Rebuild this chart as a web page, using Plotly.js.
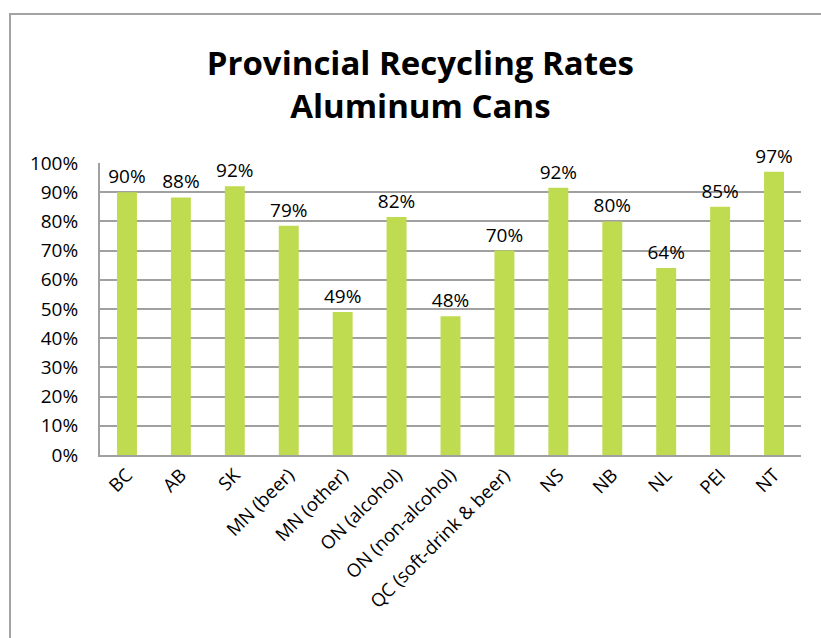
<!DOCTYPE html>
<html>
<head>
<meta charset="utf-8">
<script src="https://cdn.plot.ly/plotly-3.0.1.min.js"></script>
<style>
  html, body { margin: 0; padding: 0; background: #fff; }
  #frame {
    position: absolute; left: 9px; top: 13px; width: 900px; height: 700px;
    border-left: 2px solid #a3a3a3; border-top: 2px solid #a3a3a3;
    pointer-events: none;
  }
  #chart { position: absolute; left: 0; top: 0; width: 821px; height: 638px; }
</style>
</head>
<body>
<div id="chart"></div>
<div id="frame"></div>
<script>
var provinces = ['BC', 'AB', 'SK', 'MN (beer)', 'MN (other)', 'ON (alcohol)', 'ON (non-alcohol)',
                 'QC (soft-drink & beer)', 'NS', 'NB', 'NL', 'PEI', 'NT'];
var rates = [0.90, 0.882, 0.92, 0.785, 0.49, 0.815, 0.475, 0.70, 0.915, 0.80, 0.64, 0.85, 0.97];
var yTicks = [0, 0.1, 0.2, 0.3, 0.4, 0.5, 0.6, 0.7, 0.8, 0.9, 1.0];

var fontFam = 'Open Sans, DejaVu Sans, sans-serif';

var trace = {
    x: provinces,
    y: rates,
    type: 'bar',
    marker: { color: '#bfdb4f' },
    texttemplate: '%{y:.0%}',
    textposition: 'outside',
    constraintext: 'none',
    cliponaxis: false,
    textfont: { family: fontFam, size: 19, color: '#000' },
    hoverinfo: 'none'
};

var layout = {
    width: 821,
    height: 638,
    margin: { l: 100, r: 20, t: 163, b: 183 },
    paper_bgcolor: 'rgba(0,0,0,0)',
    plot_bgcolor: '#fff',
    showlegend: false,
    bargap: 0.63,
    font: { family: fontFam, color: '#000' },
    title: {
        text: '<b>Provincial Recycling Rates<br>Aluminum Cans</b>',
        font: { family: fontFam, size: 33, color: '#000' },
        x: 0.512,
        xanchor: 'center',
        y: 0.882,
        yanchor: 'top'
    },
    xaxis: {
        tickangle: -45,
        tickfont: { family: fontFam, size: 18.5, color: '#000' },
        showline: true,
        linecolor: '#a0a0a0',
        linewidth: 2,
        ticks: '',
        fixedrange: true
    },
    yaxis: {
        range: [0, 1],
        tickvals: yTicks,
        tickformat: '.0%',
        tickfont: { family: fontFam, size: 19, color: '#000' },
        showline: true,
        linecolor: '#a0a0a0',
        linewidth: 2,
        gridcolor: '#a0a0a0',
        gridwidth: 2,
        zeroline: false,
        ticks: '',
        ticklabelstandoff: 16,
        fixedrange: true
    }
};

Plotly.newPlot('chart', [trace], layout, { displayModeBar: false, staticPlot: true });
</script>
</body>
</html>
